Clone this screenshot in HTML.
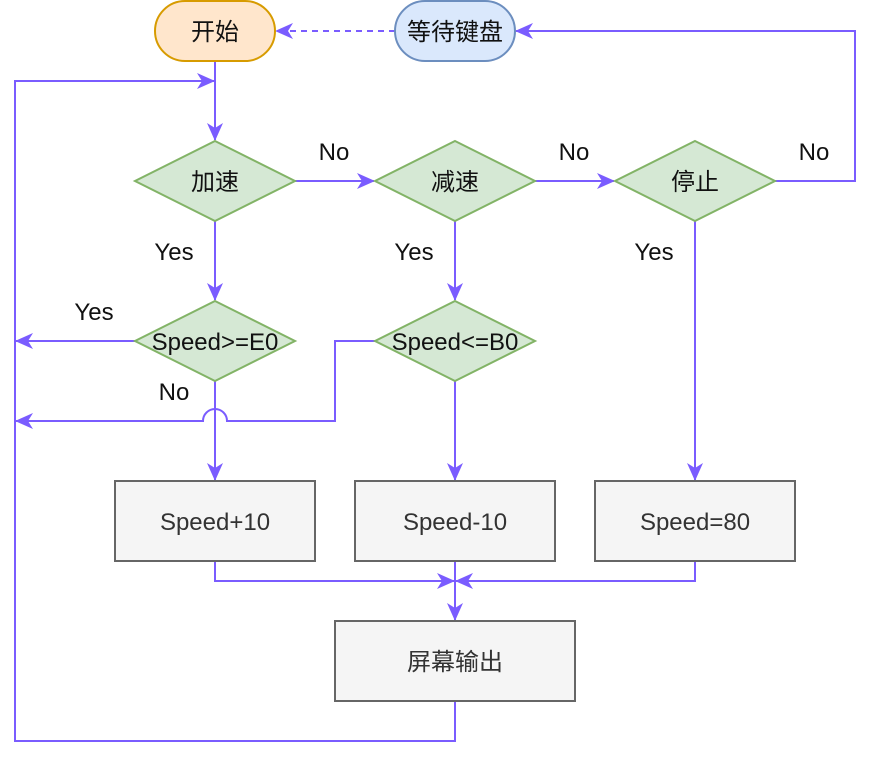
<!DOCTYPE html>
<html><head><meta charset="utf-8"><style>
html,body{margin:0;padding:0;background:#fff;width:872px;height:758px;overflow:hidden}
svg text{font-family:"Liberation Sans","Noto Sans CJK SC",sans-serif;font-size:24px}
</style></head><body>
<svg width="872" height="758" viewBox="0 0 872 758" xmlns="http://www.w3.org/2000/svg">
<defs>
<marker id="a" viewBox="0 0 18 16" refX="17" refY="8" markerWidth="18" markerHeight="16" markerUnits="userSpaceOnUse" orient="auto">
<path d="M0,0 L18,8 L0,16 L5,8 Z" fill="#7a5cff"/>
</marker>
</defs>
<g fill="none" stroke="#7a5cff" stroke-width="2">
<path d="M395,31 H276" stroke-dasharray="6,5" marker-end="url(#a)"/>
<path d="M215,61 V140" marker-end="url(#a)"/>
<path d="M455,701 V741 H15 V81 H214" marker-end="url(#a)"/>
<path d="M295,181 H374" marker-end="url(#a)"/>
<path d="M535,181 H614" marker-end="url(#a)"/>
<path d="M775,181 H855 V31 H516" marker-end="url(#a)"/>
<path d="M215,221 V300" marker-end="url(#a)"/>
<path d="M455,221 V300" marker-end="url(#a)"/>
<path d="M695,221 V480" marker-end="url(#a)"/>
<path d="M135,341 H16" marker-end="url(#a)"/>
<path d="M215,381 V480" marker-end="url(#a)"/>
<path d="M455,381 V480" marker-end="url(#a)"/>
<path d="M375,341 H335 V421 H227 A12,12 0 0 0 203,421 H16" marker-end="url(#a)"/>
<path d="M215,561 V581 H454" marker-end="url(#a)"/>
<path d="M695,561 V581 H456" marker-end="url(#a)"/>
<path d="M455,561 V620" marker-end="url(#a)"/>
</g>
<rect x="155" y="1" width="120" height="60" rx="30" fill="#ffe6cc" stroke="#d79b00" stroke-width="2"/>
<rect x="395" y="1" width="120" height="60" rx="30" fill="#dae8fc" stroke="#6c8ebf" stroke-width="2"/>
<g fill="#d5e8d4" stroke="#82b366" stroke-width="2">
<path d="M215,141 L295,181 L215,221 L135,181 Z"/>
<path d="M455,141 L535,181 L455,221 L375,181 Z"/>
<path d="M695,141 L775,181 L695,221 L615,181 Z"/>
<path d="M215,301 L295,341 L215,381 L135,341 Z"/>
<path d="M455,301 L535,341 L455,381 L375,341 Z"/>
</g>
<g fill="#f5f5f5" stroke="#666" stroke-width="2">
<rect x="115" y="481" width="200" height="80"/>
<rect x="355" y="481" width="200" height="80"/>
<rect x="595" y="481" width="200" height="80"/>
<rect x="335" y="621" width="240" height="80"/>
</g>
<g text-anchor="middle" fill="#111">
<text x="215" y="40">开始</text>
<text x="455" y="40">等待键盘</text>
<text x="215" y="190">加速</text>
<text x="455" y="190">减速</text>
<text x="695" y="190">停止</text>
<text x="215" y="350" style="font-size:24px">Speed&gt;=E0</text>
<text x="455" y="350" style="font-size:24px">Speed&lt;=B0</text>
<text x="334" y="160">No</text>
<text x="574" y="160">No</text>
<text x="814" y="160">No</text>
<text x="174" y="260">Yes</text>
<text x="414" y="260">Yes</text>
<text x="654" y="260">Yes</text>
<text x="94" y="320">Yes</text>
<text x="174" y="400">No</text>
</g>
<g text-anchor="middle" fill="#333">
<text x="215" y="530" style="font-size:24px">Speed+10</text>
<text x="455" y="530" style="font-size:24px">Speed-10</text>
<text x="695" y="530" style="font-size:24px">Speed=80</text>
<text x="455" y="670">屏幕输出</text>
</g>
</svg>
</body></html>
